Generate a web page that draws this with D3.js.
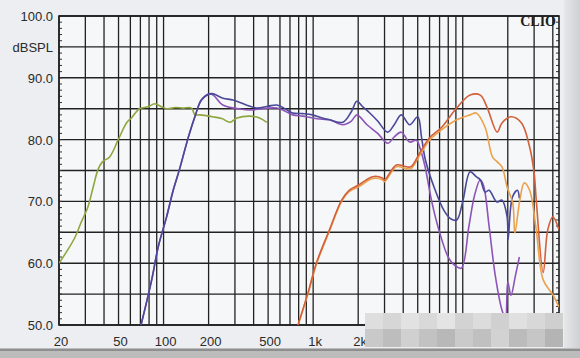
<!DOCTYPE html>
<html><head><meta charset="utf-8">
<script src="https://cdn.jsdelivr.net/npm/d3@7"></script>
<style>
html,body{margin:0;padding:0;background:#eceef1;}
svg{display:block;}
</style></head>
<body>
<svg id="chart" width="580" height="358"></svg>
<script>
// ---------- data ----------
const yTickValues = [100, 90, 80, 70, 60, 50];
const yTickLabels = ["100.0", "dBSPL", "90.0", "80.0", "70.0", "60.0", "50.0"];
const xTickValues = [20, 50, 100, 200, 500, 1000, 2000];
const xTickLabels = ["20", "50", "100", "200", "500", "1k", "2k"];

const greenFreq = [20, 22, 25.6, 28, 31.2, 34, 36.4, 39, 43.6, 49.6, 56.9, 61, 69, 78.6, 87.5, 97, 106, 120, 135, 154, 162, 175, 212, 245, 278, 310, 377, 438, 490];
const greenDb   = [60.0, 61.5, 64.2, 66.5, 69.1, 72.5, 75.1, 76.4, 77.2, 79.9, 82.8, 83.5, 85.0, 85.3, 85.8, 85.3, 85.0, 85.2, 85.1, 85.1, 84.0, 84.0, 83.7, 83.4, 82.8, 83.5, 83.8, 83.5, 82.8];

const navyFreq = [70.7, 83.3, 92.2, 104.8, 116, 127.5, 146.5, 162, 179, 203, 215, 250, 291, 357, 418, 500, 571, 650, 730, 850, 990, 1150, 1290, 1580, 1800, 1960, 2150, 2390, 2700, 3150, 3500, 3880, 4420, 5000, 5300, 5630, 6500, 7500, 8300, 9120, 10000, 11200, 12300, 13100, 14100, 15000, 16900, 18300, 19800, 20100, 21500, 23200, 23900];
const navyDb   = [50, 57.3, 62.7, 67.5, 71.8, 75.1, 80.4, 83.7, 86.4, 87.4, 87.4, 86.7, 86.4, 85.6, 85.1, 85.4, 85.6, 85.0, 84.3, 84.2, 84.0, 83.5, 83.2, 82.8, 84.5, 86.2, 85.3, 84.3, 83.0, 81.2, 82.5, 84.0, 82.4, 83.7, 80.4, 76.7, 72.0, 68.5, 67.2, 67.0, 70.0, 74.8, 74.0, 73.5, 71.5, 71.8, 69.9, 70.2, 67.5, 63.8, 70.7, 71.8, 70.5];

const purpleFreq = [70.7, 83.3, 92.2, 104.8, 116, 127.5, 146.5, 162, 179, 203, 215, 249, 324, 395, 450, 571, 650, 730, 850, 990, 1150, 1290, 1580, 1800, 1960, 2290, 2700, 3150, 3500, 3880, 4420, 4900, 5200, 5600, 6200, 7000, 8000, 9000, 9800, 11000, 12000, 13100, 13800, 15000, 16500, 18300, 19300, 20000, 21000, 22500, 23900];
const purpleDb   = [50, 57.3, 62.7, 67.5, 71.8, 75.1, 80.4, 83.7, 86.4, 87.4, 87.2, 85.6, 84.95, 84.8, 85.0, 85.1, 84.6, 84.0, 83.8, 83.5, 83.3, 83.2, 82.4, 83.0, 84.0, 82.4, 81.0, 79.4, 80.5, 81.2, 79.6, 79.9, 78.5, 75.6, 70.0, 65.0, 61.0, 59.5, 59.2, 66.0, 71.0, 73.5, 72.5, 66.0, 58.0, 52.4, 51.0, 57.0, 54.8, 58.0, 61.0];

const redFreq = [792, 923, 1050, 1285, 1550, 1740, 2030, 2500, 2900, 3000, 3600, 4200, 4500, 5200, 6000, 7240, 9100, 11200, 13100, 14500, 17000, 18300, 21000, 24700, 28000, 30000, 31000, 34500, 37000, 40000, 44000];
const redDb   = [50, 55.2, 60, 65.4, 70.2, 71.8, 72.7, 74, 73.8, 73.5, 75.9, 75.6, 75.6, 78, 80.3, 82, 85.1, 87.2, 87.2, 85.3, 81.2, 82.7, 83.7, 82.7, 78.8, 74.6, 70.2, 58.5, 65.4, 67.5, 65.4];

const orangeFreq = [792, 923, 1050, 1285, 1550, 1740, 2030, 2500, 2900, 3000, 3600, 4200, 4500, 5200, 6000, 7240, 9100, 11200, 12300, 14100, 15800, 17000, 18300, 19800, 21600, 22300, 24000, 25800, 28000, 31000, 34500, 40000, 44000];
const orangeDb   = [50, 55.0, 59.8, 65.2, 70.0, 71.6, 72.4, 73.7, 73.5, 73.2, 75.6, 75.3, 75.3, 77.6, 79.9, 81.6, 83.2, 84.0, 84.3, 82.0, 77.2, 76.4, 75.6, 72.3, 69.7, 64.9, 70.0, 73.0, 71.8, 65.4, 57.3, 54.9, 52.9];

const mosaicShades = [
  ["#dedede","#d6d6d6","#e2e2e2","#d9d9d9","#e4e4e4","#d3d3d3","#dcdcdc","#d0d0d0","#e0e0e0","#d8d8d8","#cfcfcf"],
  ["#c9c9c9","#bdbdbd","#d0d0d0","#c2c2c2","#b8b8b8","#cacaca","#c0c0c0","#d2d2d2","#bbbbbb","#c6c6c6","#b4b4b4"]
];

// ---------- layout ----------
const svg = d3.select("#chart");
const L = 59, R = 559, T = 16, B = 325;
const x = d3.scaleLog().domain([20, 44000]).range([L, R]);
const y = d3.scaleLinear().domain([50, 100]).range([B, T]);

// page shading
svg.append("rect").attr("x",0).attr("y",0).attr("width",580).attr("height",358).attr("fill","#eceef1");
svg.append("rect").attr("x",L).attr("y",T).attr("width",R-L).attr("height",B-T).attr("fill","#f6f7f8");
const grad = svg.append("defs").append("linearGradient").attr("id","edge").attr("x1",0).attr("x2",1);
grad.append("stop").attr("offset",0).attr("stop-color","#e6e7e9");
grad.append("stop").attr("offset",1).attr("stop-color","#cfd0d3");
svg.append("rect").attr("x",564).attr("y",0).attr("width",16).attr("height",358).attr("fill","url(#edge)");
svg.append("rect").attr("x",0).attr("y",348).attr("width",580).attr("height",10).attr("fill","#bcbcbc");
svg.append("rect").attr("x",0).attr("y",349).attr("width",580).attr("height",2).attr("fill","#8f8f8f");

// grid
const g = svg.append("g");
const vLines = [];
[10, 100, 1000, 10000].forEach(dec => { for (let k = 1; k <= 9; k++) { const f = k*dec; if (f >= 20 && f <= 44000) vLines.push(f); } });
g.selectAll("line.v").data(vLines).join("line")
  .attr("x1", d => x(d)).attr("x2", d => x(d)).attr("y1", T).attr("y2", B)
  .attr("stroke", "#222").attr("stroke-width", 1.3);
g.selectAll("line.h").data(d3.range(50, 101, 5)).join("line")
  .attr("x1", L).attr("x2", R).attr("y1", d => y(d)).attr("y2", d => y(d))
  .attr("stroke", "#222").attr("stroke-width", 1.4);
// minor ticks on left and right
const minor = d3.range(50, 101, 1);
g.selectAll("line.ml").data(minor).join("line")
  .attr("x1", L).attr("x2", L+3).attr("y1", d => y(d)).attr("y2", d => y(d))
  .attr("stroke", "#333").attr("stroke-width", 1);
g.selectAll("line.mr").data(minor).join("line")
  .attr("x1", R-3).attr("x2", R).attr("y1", d => y(d)).attr("y2", d => y(d))
  .attr("stroke", "#333").attr("stroke-width", 1);
// frame
g.append("rect").attr("x",L).attr("y",T).attr("width",R-L).attr("height",B-T)
  .attr("fill","none").attr("stroke","#1e1e1e").attr("stroke-width",1.6);

// curves
const clip = svg.append("clipPath").attr("id","pc").append("rect")
  .attr("x",L).attr("y",T).attr("width",R-L).attr("height",B-T);
const line = d3.line().x(d => x(d[0])).y(d => y(d[1])).curve(d3.curveCatmullRom.alpha(0.5));
const series = [
  {f: greenFreq,  v: greenDb,  c: "#8da63e"},
  {f: purpleFreq, v: purpleDb, c: "#8d54b8"},
  {f: navyFreq,   v: navyDb,   c: "#4a4899"},
  {f: orangeFreq, v: orangeDb, c: "#eba24c"},
  {f: redFreq,    v: redDb,    c: "#d2603a"}
];
const cg = svg.append("g").attr("clip-path","url(#pc)");
series.forEach(s => {
  const pts = s.f.map((f, i) => [f, s.v[i]]);
  cg.append("path").attr("d", line(pts)).attr("fill","none")
    .attr("stroke", s.c).attr("stroke-width", 1.6).attr("stroke-linejoin","round");
});

// axis labels
const yLabelPos = [100, 95, 90, 80, 70, 60, 50];
svg.selectAll("text.yl").data(yTickLabels).join("text")
  .attr("x", 53).attr("y", (d, i) => y(yLabelPos[i]) + 5)
  .attr("text-anchor", "end").attr("font-family", "Liberation Sans, Arial, sans-serif")
  .attr("font-size", 13).attr("fill", "#2a2a2a").text(d => d);
svg.selectAll("text.xl").data(xTickValues).join("text")
  .attr("x", d => x(d) + 2).attr("y", 346)
  .attr("text-anchor", "middle").attr("font-family", "Liberation Sans, Arial, sans-serif")
  .attr("font-size", 13).attr("fill", "#2a2a2a").text((d, i) => xTickLabels[i]);

// CLIO mark
svg.append("text").attr("x", 556).attr("y", 26).attr("text-anchor","end")
  .attr("font-family","Liberation Serif, serif").attr("font-weight","bold")
  .attr("font-size", 14).attr("fill","#1e1e1e").text("CLIO");

// mosaic watermark blur
const mg = svg.append("g");
mosaicShades.forEach((row, r) => row.forEach((c, k) => {
  mg.append("rect").attr("x", 365 + k*18).attr("y", 313 + r*16).attr("width", 18).attr("height", r === 0 ? 16 : 18).attr("fill", c);
}));
</script>
</body></html>
